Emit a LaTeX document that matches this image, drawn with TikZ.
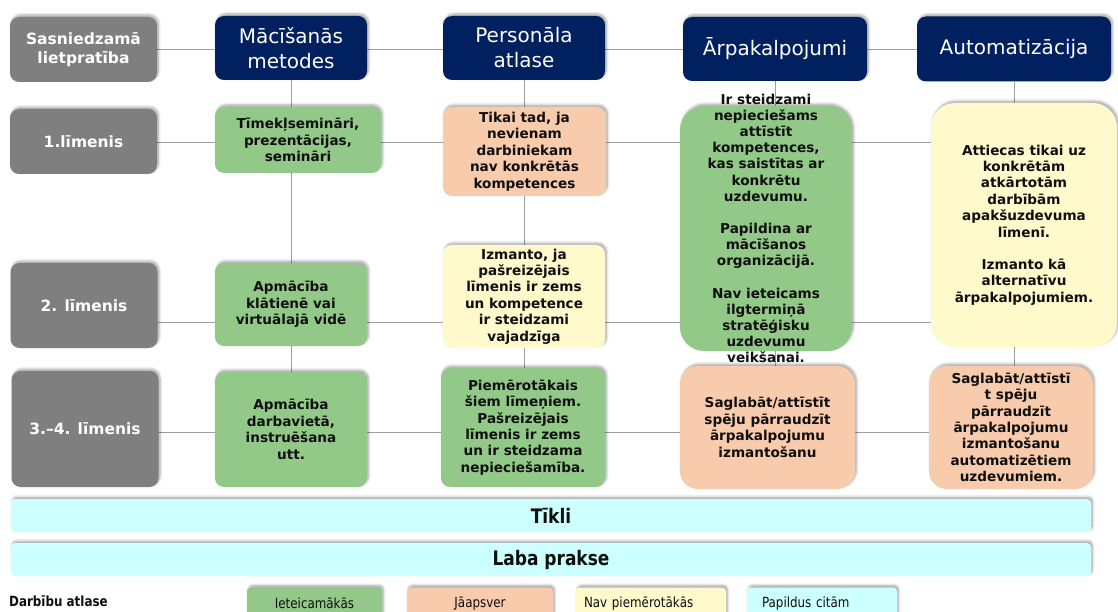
\documentclass[tikz,border=0pt]{standalone}
\usepackage{fontspec}
\setmainfont{DejaVu Sans}
\newfontfamily\narrowfont[FakeStretch=0.85]{DejaVu Sans}
\usetikzlibrary{shadows.blur,backgrounds}

\definecolor{navy}{RGB}{0,32,96}
\definecolor{lvlgrey}{RGB}{127,127,127}
\definecolor{okgreen}{RGB}{147,201,136}
\definecolor{peach}{RGB}{248,203,173}
\definecolor{paleyellow}{RGB}{255,249,204}
\definecolor{palecyan}{RGB}{204,255,255}
\definecolor{linegrey}{RGB}{160,160,160}
\definecolor{inkdark}{RGB}{15,15,15}

\begin{document}
\begin{tikzpicture}[x=1pt,y=-1pt,
	box/.style={rectangle,rounded corners=9pt,inner sep=2pt,align=center,
		blur shadow={shadow xshift=1.5pt,shadow yshift=2pt,shadow blur radius=2.5pt,
			shadow blur steps=6,shadow opacity=35}},
	level/.style={box,fill=lvlgrey,text=white,minimum width=147,
		font=\bfseries\fontsize{15.5}{18.5}\selectfont},
	head/.style={box,fill=navy,text=white,font=\fontsize{20}{25}\selectfont},
	cell/.style={box,text=inkdark,font=\bfseries\fontsize{13.6}{16.4}\selectfont},
	celltext/.style={align=center,text=inkdark,font=\bfseries\fontsize{13.6}{16.2}\selectfont},
	bar/.style={box,fill=palecyan,rounded corners=4pt,minimum width=1080,minimum height=33,
		text=inkdark,font=\narrowfont\bfseries\fontsize{20}{24}\selectfont},
	key/.style={box,rounded corners=4pt,minimum height=32,text=inkdark,
		font=\narrowfont\fontsize{14}{17}\selectfont},
	conn/.style={draw=linegrey,line width=1pt}]

	\useasboundingbox (0,0) rectangle (1118,612);
	\clip (0,0) rectangle (1118,612);

	\coordinate (r1) at (0,143);	%line of 1. level
	\coordinate (r2) at (0,322);	%line of 2. level
	\coordinate (r3) at (0,432);	%line of 3.-4. level

	%levels
	\node[level,minimum height=65] (lab0) at (83.5,49.5) {Sasniedzamā\\lietpratība};
	\node[level,minimum height=65] (lab1) at (83.5,141.5) {1.līmenis};
	\node[level,minimum height=85] (lab2) at (84,305.5) {2. līmenis};
	\node[level,minimum height=116] (lab3) at (85,429) {3.–4. līmenis};

	%headers
	\node[head,minimum width=152,minimum height=64] (hdA) at (291,48) {Mācīšanās\\metodes};
	\node[head,minimum width=162,minimum height=64] (hdB) at (524,48) {Personāla\\atlase};
	\node[head,minimum width=184,minimum height=64] (hdC) at (775,49) {Ārpakalpojumi};
	\node[head,minimum width=194,minimum height=65] (hdD) at (1014,49) {Automatizācija};

	%Mācīšanās metodes
	\node[cell,fill=okgreen,minimum width=166,minimum height=66] (a1) at (298,140) {Tīmekļsemināri,\\prezentācijas,\\semināri};
	\node[cell,fill=okgreen,minimum width=152,minimum height=83] (a2) at (291,304.5) {Apmācība\\klātienē vai\\virtuālajā vidē};
	\node[cell,fill=okgreen,minimum width=152,minimum height=115] (a3) at (291,429.5) {Apmācība\\darbavietā,\\instruēšana\\utt.};

	%Personāla atlase
	\node[cell,fill=peach,minimum width=163,minimum height=89] (b1) at (524.5,151.5) {Tikai tad, ja\\nevienam\\darbiniekam\\nav konkrētās\\kompetences};
	\node[cell,fill=paleyellow,minimum width=162,minimum height=103] (b2) at (524,296.5) {Izmanto, ja\\pašreizējais\\līmenis ir zems\\un kompetence\\ir steidzami\\vajadzīga};
	\node[cell,fill=okgreen,minimum width=164,minimum height=119] (b3) at (523,427.5) {Piemērotākais\\šiem līmeņiem.\\Pašreizējais\\līmenis ir zems\\un ir steidzama\\nepieciešamība.};

	%Ārpakalpojumi
	\node[cell,fill=okgreen,rounded corners=24pt,minimum width=172,minimum height=245] (c1) at (766,228.5) {};
	\node[celltext] (c1txt) at (c1) {Ir steidzami\\nepieciešams\\attīstīt\\kompetences,\\kas saistītas ar\\konkrētu\\uzdevumu.\\[16pt]Papildina ar\\mācīšanos\\organizācijā.\\[16pt]Nav ieteicams\\ilgtermiņā\\stratēģisku\\uzdevumu\\veikšanai.};
	\node[cell,fill=peach,rounded corners=18pt,minimum width=175,minimum height=123] (c3) at (767.5,427.5) {Saglabāt/attīstīt\\spēju pārraudzīt\\ārpakalpojumu\\izmantošanu};

	%Automatizācija
	\node[cell,fill=paleyellow,rounded corners=24pt,minimum width=186,minimum height=244] (d1) at (1024,225) {Attiecas tikai uz\\konkrētām\\atkārtotām\\darbībām\\apakšuzdevuma\\līmenī.\\[16pt]Izmanto kā\\alternatīvu\\ārpakalpojumiem.};
	\node[cell,fill=peach,rounded corners=18pt,minimum width=164,minimum height=123] (d3) at (1011,427.5) {Saglabāt/attīstī\\t spēju\\pārraudzīt\\ārpakalpojumu\\izmantošanu\\automatizētiem\\uzdevumiem.};

	%bars
	\node[bar] (tikli) at (551,515.5) {Tīkli};
	\node[bar] (laba) at (551,559.5) {Laba prakse};

	%legend
	\node[anchor=west,inner sep=0pt,text=inkdark,font=\narrowfont\bfseries\fontsize{14}{17}\selectfont] (keyname) at (9,601) {Darbību atlase};
	\node[key,fill=okgreen,minimum width=135] (keyA) at (314.5,603.5) {Ieteicamākās};
	\node[key,fill=peach,minimum width=146] (keyB) at (480,603.5) {Jāapsver};
	\node[key,fill=paleyellow,text width=134,inner xsep=8pt,align=left] (keyC) at (651,603.5) {Nav piemērotākās};
	\node[key,fill=palecyan,text width=120,inner xsep=15pt,align=left] (keyD) at (822,603.5) {Papildus citām};

	\begin{pgfonlayer}{background}
		\draw[conn] (lab0) -- (lab0 -| hdD);
		\draw[conn] (lab1 |- r1) -- (d1 |- r1);
		\draw[conn] (lab2 |- r2) -- (d1 |- r2);
		\draw[conn] (lab3 |- r3) -- (d3 |- r3);
		\draw[conn] (hdA) -- (hdA |- a3);
		\draw[conn] (hdB) -- (hdB |- b3);
		\draw[conn] (hdC) -- (hdC |- c3);
		\draw[conn] (hdD) -- (hdD |- d3);
	\end{pgfonlayer}

\end{tikzpicture}
\end{document}
